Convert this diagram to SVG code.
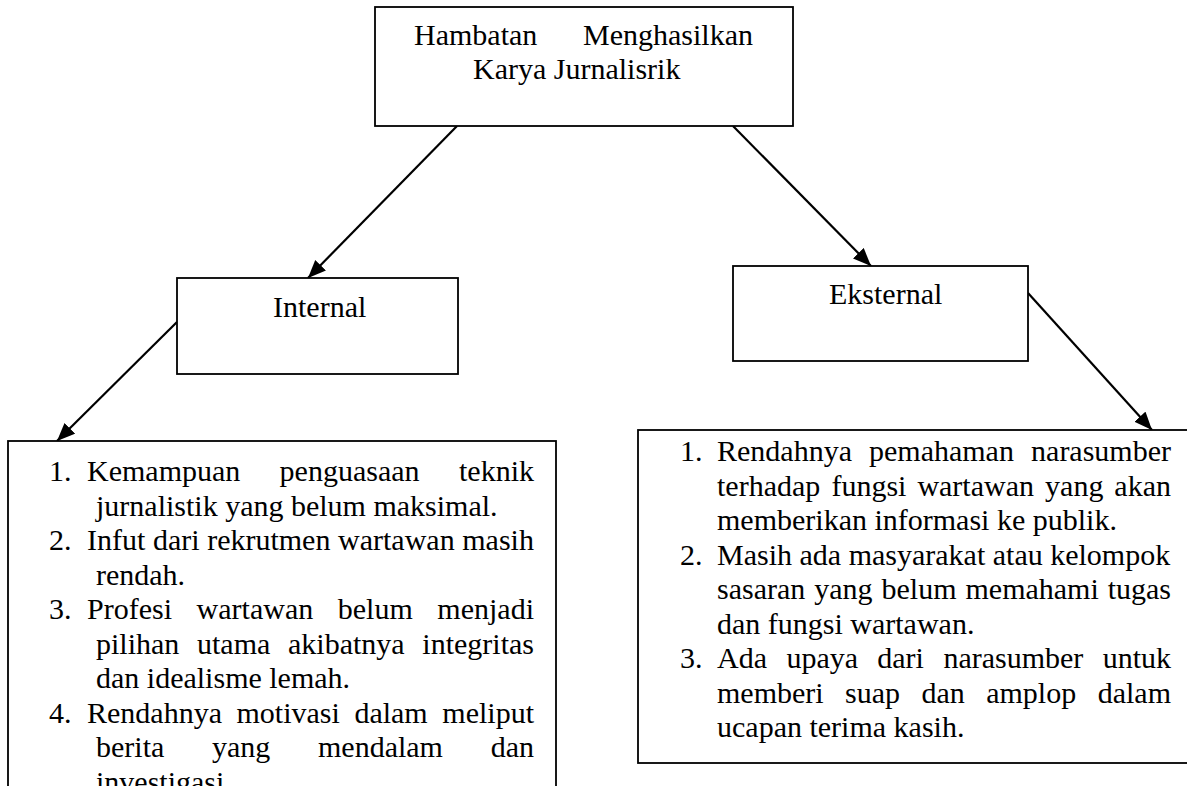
<svg xmlns="http://www.w3.org/2000/svg" width="1187" height="786" viewBox="0 0 1187 786">
<defs>
<style>
text{font-family:"Liberation Serif","Times New Roman",serif;font-size:30px;fill:#000}
.box{fill:#fff;stroke:#000;stroke-width:1.8}
.con{stroke:#000;stroke-width:2.2;fill:none;marker-end:url(#ah)}
.e{text-anchor:end}
</style>
<marker id="ah" markerUnits="userSpaceOnUse" markerWidth="20" markerHeight="16" refX="18" refY="7.5" orient="auto">
<path d="M0,0 L18,7.5 L0,15 z" fill="#000"/>
</marker>
</defs>
<rect width="1187" height="786" fill="#fff"/>

<g id="connectors">
<line class="con" x1="457" y1="126" x2="308" y2="278"/>
<line class="con" x1="733" y1="126" x2="871" y2="266"/>
<line class="con" x1="177" y1="322" x2="57" y2="441"/>
<line class="con" x1="1028" y1="293" x2="1152" y2="430"/>
</g>

<g id="node-hambatan">
<rect class="box" x="375" y="7" width="418" height="119"/>
<text x="414" y="45">Hambatan</text>
<text class="e" x="753" y="45">Menghasilkan</text>
<text x="473" y="79">Karya Jurnalisrik</text>
</g>

<g id="node-internal">
<rect class="box" x="177" y="278" width="281" height="96"/>
<text x="273" y="317">Internal</text>
</g>

<g id="node-eksternal">
<rect class="box" x="733" y="266" width="295" height="95"/>
<text x="829" y="304">Eksternal</text>
</g>

<g id="node-internal-list">
<rect class="box" x="8" y="441" width="548" height="360"/>
<text x="49" y="481">1.</text>
<text x="87" y="481">Kemampuan</text>
<text x="279.6" y="481">penguasaan</text>
<text class="e" x="534" y="481">teknik</text>
<text x="96" y="515.5">jurnalistik yang belum maksimal.</text>
<text x="49" y="550">2.</text>
<text x="87" y="550" word-spacing="0.1">Infut dari rekrutmen wartawan masih</text>
<text x="96" y="584.5">rendah.</text>
<text x="49" y="619">3.</text>
<text x="87" y="619">Profesi</text>
<text x="196.6" y="619">wartawan</text>
<text x="337.8" y="619">belum</text>
<text class="e" x="534" y="619">menjadi</text>
<text x="96" y="653.5">pilihan</text>
<text x="197" y="653.5">utama</text>
<text x="288" y="653.5">akibatnya</text>
<text class="e" x="534" y="653.5">integritas</text>
<text x="96" y="688">dan idealisme lemah.</text>
<text x="49" y="722.5">4.</text>
<text x="87" y="722.5">Rendahnya</text>
<text x="236.5" y="722.5">motivasi</text>
<text x="354.4" y="722.5">dalam</text>
<text class="e" x="534" y="722.5">meliput</text>
<text x="96" y="757">berita</text>
<text x="212" y="757">yang</text>
<text x="318" y="757">mendalam</text>
<text class="e" x="534" y="757">dan</text>
<text x="96" y="791.5">investigasi</text>
</g>

<g id="node-eksternal-list">
<rect class="box" x="638" y="430" width="560" height="333"/>
<text x="680" y="461">1.</text>
<text x="717" y="461">Rendahnya</text>
<text x="869" y="461">pemahaman</text>
<text class="e" x="1171" y="461">narasumber</text>
<text x="717" y="495.5">terhadap</text>
<text x="831.4" y="495.5">fungsi</text>
<text x="917.4" y="495.5">wartawan</text>
<text x="1045.1" y="495.5">yang</text>
<text class="e" x="1171" y="495.5">akan</text>
<text x="717" y="530">memberikan informasi ke publik.</text>
<text x="680" y="564.5">2.</text>
<text x="717" y="564.5">Masih ada masyarakat atau kelompok</text>
<text x="717" y="599">sasaran</text>
<text x="814.3" y="599">yang</text>
<text x="881.5" y="599">belum</text>
<text x="965.5" y="599">memahami</text>
<text class="e" x="1171" y="599">tugas</text>
<text x="717" y="633.5">dan fungsi wartawan.</text>
<text x="680" y="668">3.</text>
<text x="717" y="668">Ada</text>
<text x="786.4" y="668">upaya</text>
<text x="877.3" y="668">dari</text>
<text x="943.4" y="668">narasumber</text>
<text class="e" x="1171" y="668">untuk</text>
<text x="717" y="702.5">memberi</text>
<text x="845.1" y="702.5">suap</text>
<text x="921.5" y="702.5">dan</text>
<text x="986.2" y="702.5">amplop</text>
<text class="e" x="1171" y="702.5">dalam</text>
<text x="717" y="737">ucapan terima kasih.</text>
</g>
</svg>
